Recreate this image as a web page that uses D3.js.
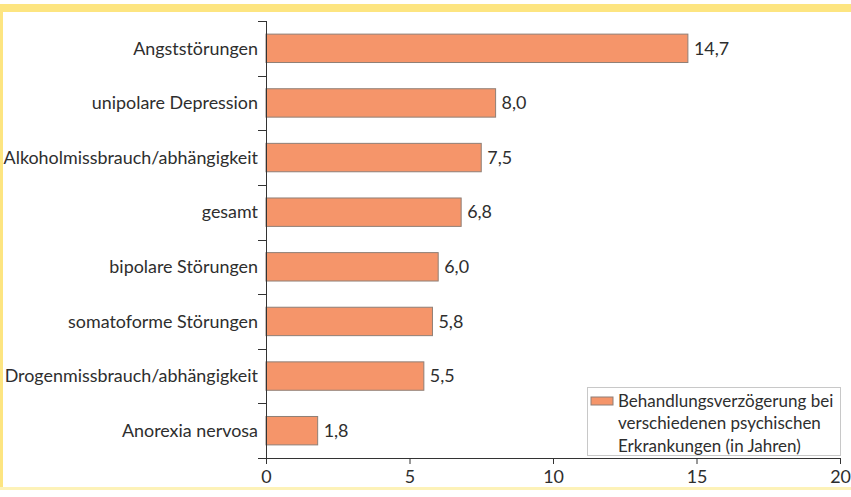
<!DOCTYPE html>
<html>
<head>
<meta charset="utf-8">
<script src="https://cdn.jsdelivr.net/npm/d3@7"></script>
<style>
  html, body { margin: 0; padding: 0; background: #fff; }
  svg { display: block; font-family: Lato, sans-serif; }
</style>
</head>
<body>
<svg id="chart" width="851" height="497"></svg>
<script>
const categories = ["Angststörungen", "unipolare Depression", "Alkoholmissbrauch/abhängigkeit", "gesamt",
  "bipolare Störungen", "somatoforme Störungen", "Drogenmissbrauch/abhängigkeit", "Anorexia nervosa"];
const values = [14.7, 8.0, 7.5, 6.8, 6.0, 5.8, 5.5, 1.8];
const xTicks = [0, 5, 10, 15, 20];
const legendLines = ["Behandlungsverzögerung bei", "verschiedenen psychischen", "Erkrankungen (in Jahren)"];

const W = 851, H = 497;
const M = { top: 21, right: 11, bottom: 39, left: 266 };
const TEXT = "#2e2e2e";
const FS = "17.9px";
const fmt = v => d3.format(".1f")(v).replace(".", ",");

const svg = d3.select("#chart");

// yellow frame
svg.append("rect").attr("x", 0).attr("y", 4).attr("width", W).attr("height", 8).attr("fill", "#fde581");
svg.append("rect").attr("x", 0).attr("y", 4).attr("width", 3).attr("height", 486).attr("fill", "#fde581");
svg.append("rect").attr("x", 0).attr("y", 487).attr("width", W).attr("height", 3).attr("fill", "#fdf2b8");

const w = W - M.left - M.right, h = H - M.top - M.bottom;
const g = svg.append("g").attr("transform", `translate(${M.left},${M.top})`);

const x = d3.scaleLinear().domain([0, 20]).range([0, w]);
const y = d3.scaleBand().domain(categories).range([0, h]).paddingInner(0.48).paddingOuter(0.24);

// bars
g.selectAll(".bar")
  .data(categories)
  .join("rect")
  .attr("class", "bar")
  .attr("x", 0)
  .attr("y", d => y(d))
  .attr("width", (d, i) => x(values[i]))
  .attr("height", y.bandwidth())
  .attr("fill", "#f5956a")
  .attr("stroke", "#8f7f76")
  .attr("stroke-width", 1);

// value labels
g.selectAll(".val")
  .data(categories)
  .join("text")
  .attr("class", "val")
  .attr("x", (d, i) => x(values[i]) + 6)
  .attr("y", d => y(d) + y.bandwidth() / 2)
  .attr("dy", "0.35em")
  .attr("fill", TEXT)
  .style("font-size", FS)
  .text((d, i) => fmt(values[i]));

// y axis: line with ticks at band boundaries
const step = y.step();
const yLine = g.append("g").attr("class", "axis y");
yLine.append("line").attr("x1", 0.5).attr("x2", 0.5).attr("y1", 0).attr("y2", h).attr("stroke", "#333");
yLine.selectAll(".tk")
  .data(d3.range(categories.length + 1))
  .join("line")
  .attr("x1", -8).attr("x2", 0.5)
  .attr("y1", i => Math.round(i * step) + 0.5)
  .attr("y2", i => Math.round(i * step) + 0.5)
  .attr("stroke", "#333");
yLine.selectAll(".lbl")
  .data(categories)
  .join("text")
  .attr("x", -8)
  .attr("y", d => y(d) + y.bandwidth() / 2)
  .attr("dy", "0.35em")
  .attr("text-anchor", "end")
  .attr("fill", TEXT)
  .style("font-size", FS)
  .text(d => d);

// x axis
const xAxis = g.append("g")
  .attr("transform", `translate(0,${h})`)
  .call(d3.axisBottom(x).tickValues(xTicks).tickSize(6).tickPadding(6).tickFormat(d3.format("d")));
xAxis.select(".domain").attr("stroke", "#333");
xAxis.selectAll(".tick line").attr("stroke", "#333");
xAxis.selectAll(".tick text").attr("fill", TEXT).style("font-size", FS).style("font-family", "Lato, sans-serif");

// legend
const lg = svg.append("g").attr("transform", "translate(587,387)");
lg.append("rect").attr("x", 0.5).attr("y", 0.5).attr("width", 253).attr("height", 68)
  .attr("fill", "#fff").attr("stroke", "#c8c8c8");
lg.append("rect").attr("x", 4).attr("y", 10).attr("width", 22).attr("height", 8)
  .attr("fill", "#f5956a").attr("stroke", "#8f7f76");
lg.selectAll("text")
  .data(legendLines)
  .join("text")
  .attr("x", 31)
  .attr("y", (d, i) => 14 + i * 22.5)
  .attr("dy", "0.35em")
  .attr("fill", TEXT)
  .style("font-size", "17px")
  .text(d => d);
</script>
</body>
</html>
